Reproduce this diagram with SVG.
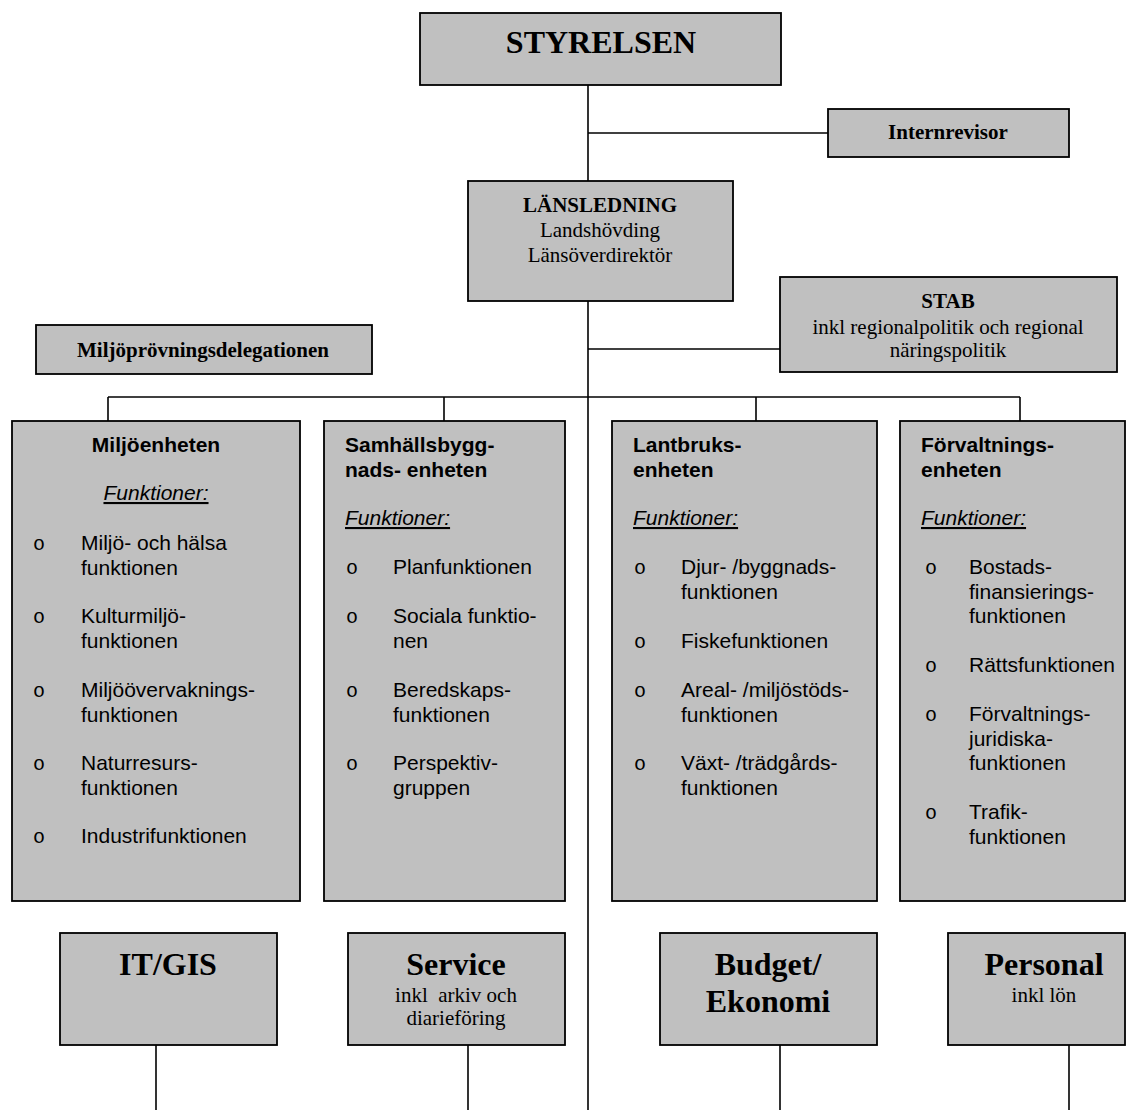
<svg xmlns="http://www.w3.org/2000/svg" width="1126" height="1110" viewBox="0 0 1126 1110">
<style>
.box{fill:#C0C0C0;stroke:#000;stroke-width:1.8}
.ln{stroke:#000;stroke-width:1.6;fill:none}
.ser{font-family:"Liberation Serif","Times New Roman",serif;fill:#000}
.big{font-size:32px;font-weight:bold}
.sb{font-size:21px;font-weight:bold}
.sr{font-size:21px}
.sans{font-family:"Liberation Sans",Arial,sans-serif;font-size:21px;fill:#000}
.hd{font-weight:bold}
.fk{font-style:italic;text-decoration:underline}
.bul{font-family:"Liberation Mono","Courier New",monospace;font-size:20px;fill:#000}
.c{text-anchor:middle}
</style>
<rect width="1126" height="1110" fill="#fff"/>
<g id="connectors">
<line class="ln" x1="588" y1="85" x2="588" y2="181"/>
<line class="ln" x1="588" y1="301" x2="588" y2="1110"/>
<line class="ln" x1="588" y1="133" x2="828" y2="133"/>
<line class="ln" x1="588" y1="349" x2="780" y2="349"/>
<line class="ln" x1="108" y1="397" x2="1020" y2="397"/>
<line class="ln" x1="108" y1="397" x2="108" y2="421"/>
<line class="ln" x1="444" y1="397" x2="444" y2="421"/>
<line class="ln" x1="756" y1="397" x2="756" y2="421"/>
<line class="ln" x1="1020" y1="397" x2="1020" y2="421"/>
<line class="ln" x1="156" y1="1045" x2="156" y2="1110"/>
<line class="ln" x1="468" y1="1045" x2="468" y2="1110"/>
<line class="ln" x1="780" y1="1045" x2="780" y2="1110"/>
<line class="ln" x1="1069" y1="1045" x2="1069" y2="1110"/>
</g>
<g id="styrelsen">
<rect class="box" x="420" y="13" width="361" height="72"/>
<text class="ser big c" x="601" y="53">STYRELSEN</text>
</g>
<g id="internrevisor">
<rect class="box" x="828" y="109" width="241" height="48"/>
<text class="ser sb c" x="948" y="139">Internrevisor</text>
</g>
<g id="lansledning">
<rect class="box" x="468" y="181" width="265" height="120"/>
<text class="ser sb c" x="600" y="212">LÄNSLEDNING</text>
<text class="ser sr c" x="600" y="237">Landshövding</text>
<text class="ser sr c" x="600" y="262">Länsöverdirektör</text>
</g>
<g id="stab">
<rect class="box" x="780" y="277" width="337" height="95"/>
<text class="ser sb c" x="948" y="308">STAB</text>
<text class="ser sr c" x="948" y="334">inkl regionalpolitik och regional</text>
<text class="ser sr c" x="948" y="357">näringspolitik</text>
</g>
<g id="miljoprovning">
<rect class="box" x="36" y="325" width="336" height="49"/>
<text class="ser sb c" x="203" y="357">Miljöprövningsdelegationen</text>
</g>
<g id="miljoenheten">
<rect class="box" x="12" y="421" width="288" height="480"/>
<text class="sans hd c" x="156" y="452">Miljöenheten</text>
<text class="sans fk c" x="156" y="500">Funktioner:</text>
<text class="bul" x="33" y="550">o</text>
<text class="sans" x="81" y="550">Miljö- och hälsa<tspan x="81" dy="24.5">funktionen</tspan></text>
<text class="bul" x="33" y="623">o</text>
<text class="sans" x="81" y="623">Kulturmiljö-<tspan x="81" dy="24.5">funktionen</tspan></text>
<text class="bul" x="33" y="697">o</text>
<text class="sans" x="81" y="697">Miljöövervaknings-<tspan x="81" dy="24.5">funktionen</tspan></text>
<text class="bul" x="33" y="770">o</text>
<text class="sans" x="81" y="770">Naturresurs-<tspan x="81" dy="24.5">funktionen</tspan></text>
<text class="bul" x="33" y="843">o</text>
<text class="sans" x="81" y="843">Industrifunktionen</text>
</g>
<g id="samhallsbyggnad">
<rect class="box" x="324" y="421" width="241" height="480"/>
<text class="sans hd" x="345" y="452">Samhällsbygg-<tspan x="345" dy="24.5">nads- enheten</tspan></text>
<text class="sans fk" x="345" y="525">Funktioner:</text>
<text class="bul" x="346" y="574">o</text>
<text class="sans" x="393" y="574">Planfunktionen</text>
<text class="bul" x="346" y="623">o</text>
<text class="sans" x="393" y="623">Sociala funktio-<tspan x="393" dy="24.5">nen</tspan></text>
<text class="bul" x="346" y="697">o</text>
<text class="sans" x="393" y="697">Beredskaps-<tspan x="393" dy="24.5">funktionen</tspan></text>
<text class="bul" x="346" y="770">o</text>
<text class="sans" x="393" y="770">Perspektiv-<tspan x="393" dy="24.5">gruppen</tspan></text>
</g>
<g id="lantbruk">
<rect class="box" x="612" y="421" width="265" height="480"/>
<text class="sans hd" x="633" y="452">Lantbruks-<tspan x="633" dy="24.5">enheten</tspan></text>
<text class="sans fk" x="633" y="525">Funktioner:</text>
<text class="bul" x="634" y="574">o</text>
<text class="sans" x="681" y="574">Djur- /byggnads-<tspan x="681" dy="24.5">funktionen</tspan></text>
<text class="bul" x="634" y="648">o</text>
<text class="sans" x="681" y="648">Fiskefunktionen</text>
<text class="bul" x="634" y="697">o</text>
<text class="sans" x="681" y="697">Areal- /miljöstöds-<tspan x="681" dy="24.5">funktionen</tspan></text>
<text class="bul" x="634" y="770">o</text>
<text class="sans" x="681" y="770">Växt- /trädgårds-<tspan x="681" dy="24.5">funktionen</tspan></text>
</g>
<g id="forvaltning">
<rect class="box" x="900" y="421" width="225" height="480"/>
<text class="sans hd" x="921" y="452">Förvaltnings-<tspan x="921" dy="24.5">enheten</tspan></text>
<text class="sans fk" x="921" y="525">Funktioner:</text>
<text class="bul" x="925" y="574">o</text>
<text class="sans" x="969" y="574">Bostads-<tspan x="969" dy="24.5">finansierings-</tspan><tspan x="969" dy="24.5">funktionen</tspan></text>
<text class="bul" x="925" y="672">o</text>
<text class="sans" x="969" y="672">Rättsfunktionen</text>
<text class="bul" x="925" y="721">o</text>
<text class="sans" x="969" y="721">Förvaltnings-<tspan x="969" dy="24.5">juridiska-</tspan><tspan x="969" dy="24.5">funktionen</tspan></text>
<text class="bul" x="925" y="819">o</text>
<text class="sans" x="969" y="819">Trafik-<tspan x="969" dy="24.5">funktionen</tspan></text>
</g>
<g id="itgis">
<rect class="box" x="60" y="933" width="217" height="112"/>
<text class="ser big c" x="168" y="975">IT/GIS</text>
</g>
<g id="service">
<rect class="box" x="348" y="933" width="217" height="112"/>
<text class="ser big c" x="456" y="975">Service</text>
<text class="ser sr c" x="456" y="1002" xml:space="preserve" style="white-space:pre">inkl  arkiv och</text>
<text class="ser sr c" x="456" y="1025">diarieföring</text>
</g>
<g id="budget">
<rect class="box" x="660" y="933" width="217" height="112"/>
<text class="ser big c" x="768" y="975">Budget/</text>
<text class="ser big c" x="768" y="1012">Ekonomi</text>
</g>
<g id="personal">
<rect class="box" x="948" y="933" width="177" height="112"/>
<text class="ser big c" x="1044" y="975">Personal</text>
<text class="ser sr c" x="1044" y="1002">inkl lön</text>
</g>
</svg>
